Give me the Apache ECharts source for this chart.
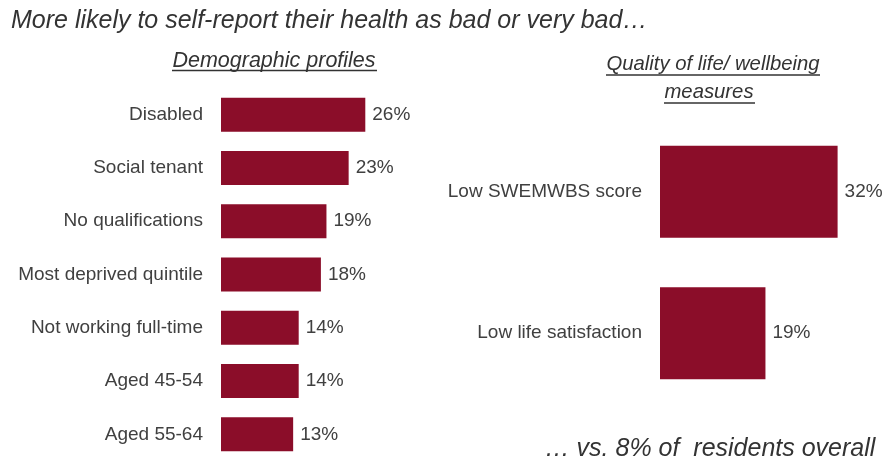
<!DOCTYPE html>
<html>
<head>
<meta charset="utf-8">
<script src="https://cdn.jsdelivr.net/npm/echarts@6/dist/echarts.min.js"></script>
<style>
  html, body { margin: 0; padding: 0; background: #ffffff; }
  #chart { width: 885px; height: 461px; }
</style>
</head>
<body>
<div id="chart"></div>
<script>
// Demographic groups and share reporting bad / very bad health (%)
const demoCategories = [
  'Disabled',
  'Social tenant',
  'No qualifications',
  'Most deprived quintile',
  'Not working full-time',
  'Aged 45-54',
  'Aged 55-64'
];
const demoValues = [26, 23, 19, 18, 14, 14, 13];

// Quality of life / wellbeing groups (%)
const wellbeingCategories = ['Low SWEMWBS score', 'Low life satisfaction'];
const wellbeingValues = [32, 19];

// Share across all residents (%)
const overallValue = 8;

const FONT = '"Liberation Sans", Arial, Helvetica, sans-serif';
const TEXT = '#404040';
const BAR = '#8B0D29';
const AXIS_MAX = 40;

function valueAxis(idx) {
  return {
    type: 'value', gridIndex: idx, min: 0, max: AXIS_MAX,
    show: false
  };
}
function categoryAxis(idx, cats) {
  return {
    type: 'category', gridIndex: idx, data: cats, inverse: true,
    axisLine: { show: false }, axisTick: { show: false }, splitLine: { show: false },
    axisLabel: { color: TEXT, fontSize: 19, fontFamily: FONT, margin: 18 }
  };
}
function barSeries(idx, values, width) {
  return {
    type: 'bar', xAxisIndex: idx, yAxisIndex: idx, data: values,
    barWidth: width, silent: true,
    itemStyle: { color: BAR },
    label: {
      show: true, position: 'right', distance: 7,
      formatter: '{c}%', color: TEXT, fontSize: 19, fontFamily: FONT
    }
  };
}
function heading(text, x, y, size) {
  return {
    type: 'text', silent: true,
    style: {
      text: text, x: x, y: y, textAlign: 'center', textVerticalAlign: 'middle',
      font: 'italic ' + size + 'px ' + FONT, fill: '#333333'
    }
  };
}
function underline(x1, x2, y) {
  return {
    type: 'line', silent: true,
    shape: { x1: x1, y1: y, x2: x2, y2: y },
    style: { stroke: '#333333', lineWidth: 1.3 }
  };
}

const chart = echarts.init(document.getElementById('chart'), null, { renderer: 'canvas' });
chart.setOption({
  animation: false,
  backgroundColor: '#ffffff',
  grid: [
    { left: 221, width: 222, top: 88, height: 375 },
    { left: 660, width: 222, top: 121, height: 283 }
  ],
  xAxis: [valueAxis(0), valueAxis(1)],
  yAxis: [categoryAxis(0, demoCategories), categoryAxis(1, wellbeingCategories)],
  series: [barSeries(0, demoValues, 34), barSeries(1, wellbeingValues, 92)],
  graphic: [
    {
      type: 'text', silent: true,
      style: {
        text: 'More likely to self-report their health as bad or very bad\u2026',
        x: 11, y: 21, textAlign: 'left', textVerticalAlign: 'middle',
        font: 'italic 25px ' + FONT, fill: '#333333'
      }
    },
    heading('Demographic profiles', 274, 61, 21.5),
    underline(172, 377, 70.5),
    heading('Quality of life/ wellbeing', 713, 64, 20.3),
    underline(606, 820, 75),
    heading('measures', 709, 92, 20.3),
    underline(664, 755, 103),
    {
      type: 'text', silent: true,
      style: {
        text: '\u2026 vs. ' + overallValue + '% of  residents overall',
        x: 710, y: 449, textAlign: 'center', textVerticalAlign: 'middle',
        font: 'italic 25px ' + FONT, fill: '#333333'
      }
    }
  ]
});
</script>
</body>
</html>
